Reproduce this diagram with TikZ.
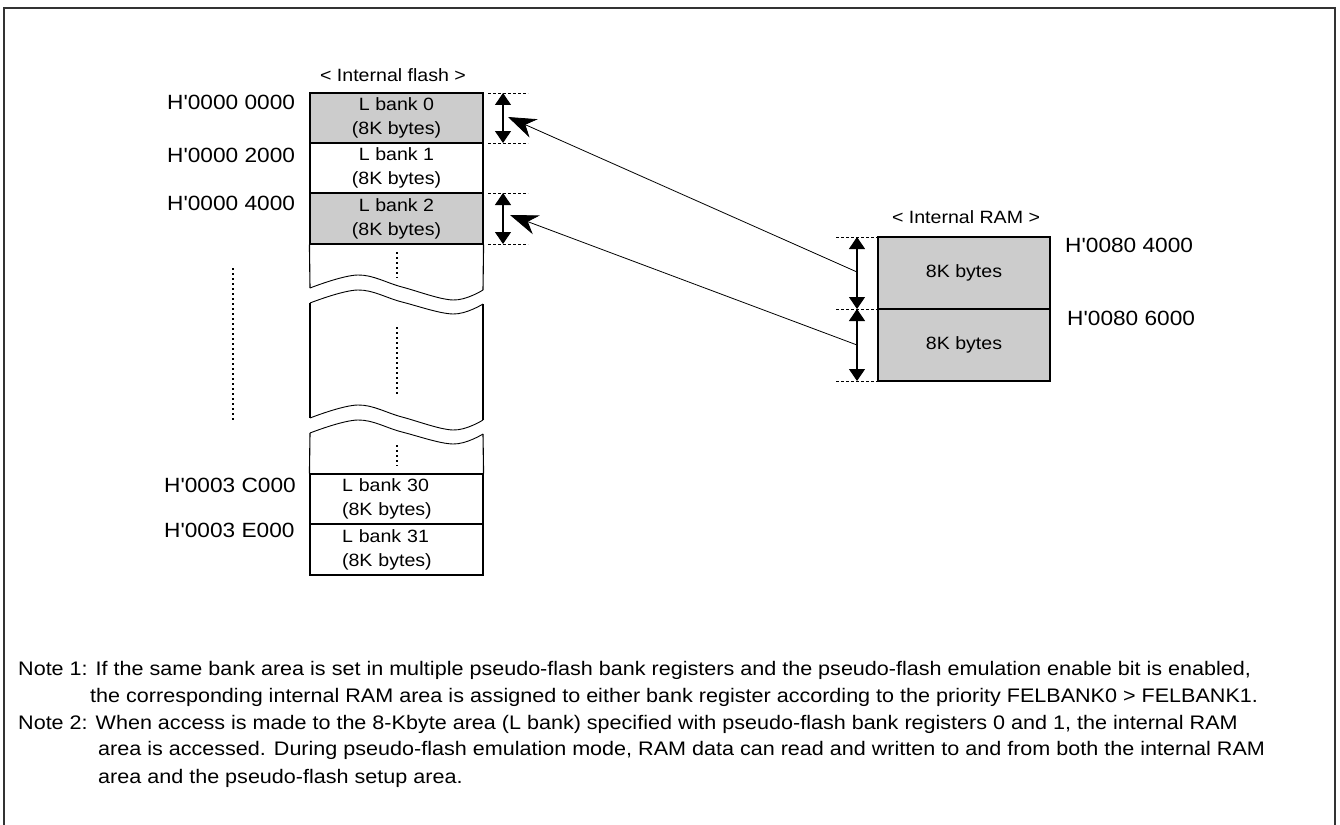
\documentclass[tikz,border=0pt]{standalone}
\usepackage{fontspec}
\setmainfont{Liberation Sans}[FakeStretch=1.1, Ligatures=TeXOff]
\usetikzlibrary{arrows.meta}

\definecolor{bankgray}{RGB}{204,204,204}
\newcommand\addrfont{\fontsize{20.6}{24}\selectfont}
\newcommand\cellfont{\fontsize{17.8}{24}\selectfont}
\newcommand\notefont{\fontsize{19.6}{24}\selectfont}

\tikzset{
  cell/.style={draw, line width=1.1pt, minimum width=173pt, inner sep=0pt,
               font=\cellfont, align=center},
  ramcell/.style={draw, line width=1.1pt, fill=bankgray, minimum width=172pt,
               minimum height=72pt, inner sep=0pt, font=\cellfont},
  edge/.style={line width=1.1pt},
  tick/.style={line width=0.8pt, dash pattern=on 3pt off 2pt},
  span/.style={line width=1.1pt,
               {Triangle[width=16pt,length=12pt]}-{Triangle[width=16pt,length=12pt]}},
  link/.style={line width=0.8pt, -{Stealth[length=28pt,width=20pt,inset=9pt]}},
  dotline/.style={line width=2pt, dash pattern=on 2pt off 3pt},
  addr/.style={anchor=base west, inner sep=0pt, font=\addrfont},
  title/.style={inner sep=0pt, font=\cellfont},
  note/.style={anchor=base west, inner sep=0pt, font=\notefont},
}

\begin{document}
\begin{tikzpicture}[x=1pt,y=-1pt]
\useasboundingbox (0,0) rectangle (1340,824);

% outer frame
\draw[line width=1.2pt, black!80] (4,830) -- (4,8) -- (1335,8) -- (1335,830);

% ---- internal flash ----
\node[title] (flashtitle) at (393,75) {< Internal flash >};

\node[cell, fill=bankgray, minimum height=50pt] (b0) at (396.5,118) {L bank 0\\(8K bytes)};
\node[cell, minimum height=50pt] (b1) at (396.5,168) {L bank 1\\(8K bytes)};
\node[cell, fill=bankgray, minimum height=51pt] (b2) at (396.5,218.5) {L bank 2\\(8K bytes)};
\node[cell, minimum height=50pt, text width=109pt, align=left, inner xsep=32pt] (b30)
  at (396.5,499) {L bank 30\\(8K bytes)};
\node[cell, minimum height=51pt, text width=109pt, align=left, inner xsep=32pt] (b31)
  at (396.5,549.5) {L bank 31\\(8K bytes)};

% sides and wavy breaks of the elided region
\draw[edge] (b2.south west) -- (310,288);
\draw[edge] (b2.south east) -- (483,290);
\draw[line width=0.9pt] plot[smooth, tension=0.6] coordinates
  {(310,288) (358,275) (402,287) (453,300) (483,290)};
\draw[line width=0.9pt] plot[smooth, tension=0.6] coordinates
  {(310,303) (358,290) (402,302) (453,314) (483,304)};
\draw[edge] (310,303) -- (310,418);
\draw[edge] (483,304) -- (483,420);
\draw[line width=0.9pt] plot[smooth, tension=0.6] coordinates
  {(310,418) (358,405) (402,417) (453,430) (483,420)};
\draw[line width=0.9pt] plot[smooth, tension=0.6] coordinates
  {(310,433) (358,420) (402,432) (453,444) (483,434)};
\draw[edge] (310,433) -- (b30.north west);
\draw[edge] (483,434) -- (b30.north east);

% vertical ellipses
\draw[dotline] (397,252) -- (397,278);
\draw[dotline] (397,327) -- (397,395);
\draw[dotline] (397,445) -- (397,466);
\draw[dotline] (233,268) -- (233,422);

% addresses
\node[addr] (a0)  at (167,109.5) {H'0000 0000};
\node[addr] (a1)  at (167,162.5) {H'0000 2000};
\node[addr] (a2)  at (167,210.5) {H'0000 4000};
\node[addr] (a30) at (164,492.5) {H'0003 C000};
\node[addr] (a31) at (164,537.5) {H'0003 E000};

% size markers beside banks 0 and 2
\coordinate (f0t) at (503,93);
\coordinate (f0b) at (503,143);
\coordinate (f2t) at (503,193);
\coordinate (f2b) at (503,244);
\draw[tick] (488,93) -- (528,93);
\draw[tick] (488,143) -- (528,143);
\draw[tick] (488,193) -- (528,193);
\draw[tick] (488,244) -- (528,244);
\draw[span] (f0t) -- (f0b);
\draw[span] (f2t) -- (f2b);

% ---- internal RAM ----
\node[title] (ramtitle) at (966,217) {< Internal RAM >};
\node[ramcell] (r0) at (964,273) {8K bytes};
\node[ramcell] (r1) at (964,345) {8K bytes};
\node[addr] (ra0) at (1065,252.5) {H'0080 4000};
\node[addr] (ra1) at (1067,325.5) {H'0080 6000};

\coordinate (r0t) at (857,237);
\coordinate (r0b) at (857,309);
\coordinate (r1b) at (857,381);
\draw[tick] (836,237) -- (877,237);
\draw[tick] (836,309) -- (877,309);
\draw[tick] (836,381) -- (877,381);
\draw[span] (r0t) -- (r0b);
\draw[span] (r0b) -- (r1b);

% mapping of RAM halves onto flash banks
\coordinate (r0m) at (857,272);
\coordinate (r1m) at (857,345);
\coordinate (f0m) at (508,117);
\coordinate (f2m) at (510,215);
\draw[link] (r0m) -- (f0m);
\draw[link] (r1m) -- (f2m);

% ---- notes ----
\node[note] (n1a) at (18,675) {Note 1: If the same bank area is set in multiple pseudo-flash bank registers and the pseudo-flash emulation enable bit is enabled,};
\node[note] (n1b) at (90,702) {the corresponding internal RAM area is assigned to either bank register according to the priority FELBANK0 > FELBANK1.};
\node[note] (n2a) at (18,729) {Note 2: When access is made to the 8-Kbyte area (L bank) specified with pseudo-flash bank registers 0 and 1, the internal RAM};
\node[note] (n2b) at (98,755) {area is accessed. During pseudo-flash emulation mode, RAM data can read and written to and from both the internal RAM};
\node[note] (n2c) at (98,783) {area and the pseudo-flash setup area.};
\end{tikzpicture}
\end{document}
